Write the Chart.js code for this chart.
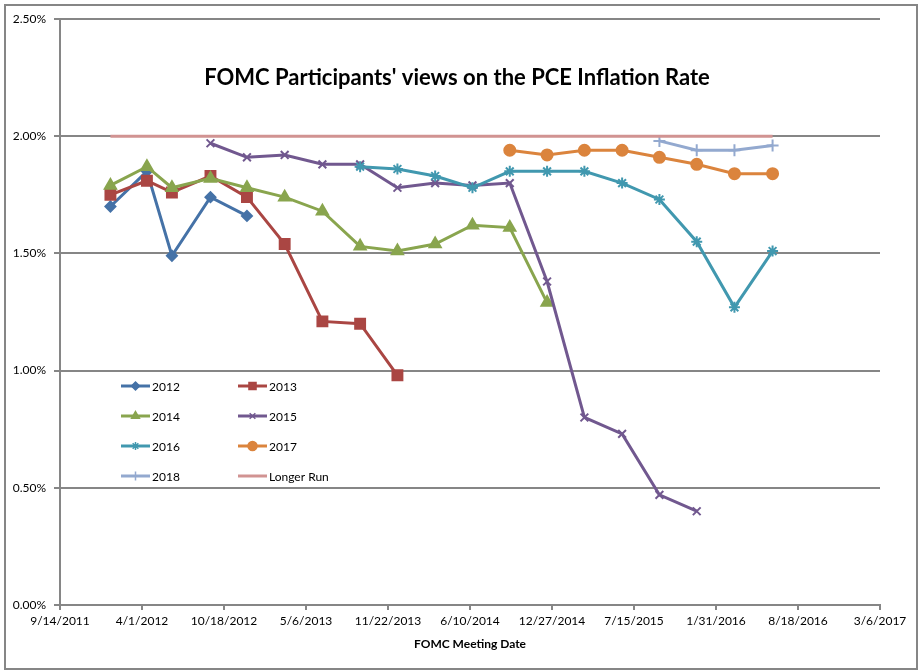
<!DOCTYPE html>
<html>
<head>
<meta charset="utf-8">
<script src="https://cdn.jsdelivr.net/npm/chart.js@4.4.0/dist/chart.umd.min.js"></script>
<style>
  html, body { margin: 0; padding: 0; background: #fff; }
  #wrap { width: 920px; height: 671px; }
</style>
</head>
<body>
<div id="wrap"><canvas id="fomc" width="920" height="671"></canvas></div>
<script>
// meeting dates
var meetingDates = ["2012-01-15","2012-04-13","2012-06-13","2012-09-15","2012-12-13",
  "2013-03-15","2013-06-15","2013-09-15","2013-12-15","2014-03-17","2014-06-16",
  "2014-09-15","2014-12-15","2015-03-16","2015-06-16","2015-09-15","2015-12-15",
  "2016-03-16","2016-06-17"];

// PCE inflation projections (%), one entry per meeting, null = no projection
var pce2012 = [1.70,1.85,1.49,1.74,1.66,null,null,null,null,null,null,null,null,null,null,null,null,null,null];
var pce2013 = [1.75,1.81,1.76,1.83,1.74,1.54,1.21,1.20,0.98,null,null,null,null,null,null,null,null,null,null];
var pce2014 = [1.79,1.87,1.78,1.82,1.78,1.74,1.68,1.53,1.51,1.54,1.62,1.61,1.29,null,null,null,null,null,null];
var pce2015 = [null,null,null,1.97,1.91,1.92,1.88,1.88,1.78,1.80,1.79,1.80,1.38,0.80,0.73,0.47,0.40,null,null];
var pce2016 = [null,null,null,null,null,null,null,1.87,1.86,1.83,1.78,1.85,1.85,1.85,1.80,1.73,1.55,1.27,1.51];
var pce2017 = [null,null,null,null,null,null,null,null,null,null,null,1.94,1.92,1.94,1.94,1.91,1.88,1.84,1.84];
var pce2018 = [null,null,null,null,null,null,null,null,null,null,null,null,null,null,null,1.98,1.94,1.94,1.96];
var pceLonger = [2.00,2.00,2.00,2.00,2.00,2.00,2.00,2.00,2.00,2.00,2.00,2.00,2.00,2.00,2.00,2.00,2.00,2.00,2.00];

var seriesNames = ["2012","2013","2014","2015","2016","2017","2018","Longer Run"];
var yTicks = [0, 0.5, 1.0, 1.5, 2.0, 2.5];

var colors = ["#4572A7","#AA4643","#89A54E","#71588F","#4198AF","#DB843D","#93A9CF","#D19392"];
var styles = ["rectRot","rect","triangle","crossRot","star","circle","cross",false];
var radii  = [5, 7, 6.5, 5.5, 5.5, 5.5, 6, 0];
var legendRadii = [4, 5, 4.5, 4, 4, 4.5, 4.5, 0];

var EXCEL_EPOCH = Date.UTC(1899, 11, 30);
function toSerial(s){
	var p = s.split("-");
	return (Date.UTC(+p[0], +p[1]-1, +p[2]) - EXCEL_EPOCH) / 86400000;
}
function serialLabel(v){
	var d = new Date(EXCEL_EPOCH + v*86400000);
	return (d.getUTCMonth()+1) + "/" + d.getUTCDate() + "/" + d.getUTCFullYear();
}

var serials = meetingDates.map(toSerial);
var allSeries = [pce2012,pce2013,pce2014,pce2015,pce2016,pce2017,pce2018,pceLonger];

var datasets = [];
for(var i = 0; i < allSeries.length; i++){
	var pts = [];
	for(var j = 0; j < serials.length; j++){
		if(allSeries[i][j] !== null) pts.push({x: serials[j], y: allSeries[i][j]});
	}
	datasets.push({
		label: seriesNames[i],
		data: pts,
		borderColor: colors[i],
		backgroundColor: colors[i],
		borderWidth: 3,
		pointStyle: styles[i],
		pointRadius: radii[i],
		pointBorderWidth: 2,
		pointBackgroundColor: colors[i],
		pointBorderColor: colors[i],
		tension: 0,
		order: -i
	});
}

var gridGray = "#868686";

// outer frame, in-plot title and legend (Excel style)
var excelDecor = {
	id: "excelDecor",
	beforeDraw: function(chart){
		var ctx = chart.ctx;
		ctx.save();
		ctx.strokeStyle = gridGray;
		ctx.lineWidth = 2;
		ctx.strokeRect(5, 5, 912, 664);
		ctx.restore();
	},
	afterDraw: function(chart){
		var ctx = chart.ctx;
		ctx.save();
		ctx.fillStyle = "#000";
		ctx.font = "bold 22px Lato";
		ctx.textAlign = "center";
		ctx.textBaseline = "middle";
		ctx.fillText("FOMC Participants' views on the PCE Inflation Rate", 457, 78);

		ctx.font = "12px Lato";
		ctx.textAlign = "left";
		for(var k = 0; k < seriesNames.length; k++){
			var x0 = (k % 2 == 0) ? 121 : 238;
			var y0 = 386 + Math.floor(k/2) * 30;
			ctx.strokeStyle = colors[k];
			ctx.fillStyle = colors[k];
			ctx.lineWidth = 3;
			ctx.beginPath();
			ctx.moveTo(x0, y0);
			ctx.lineTo(x0 + 29, y0);
			ctx.stroke();
			if(styles[k]){
				ctx.lineWidth = 1.5;
				Chart.helpers.drawPoint(ctx, {pointStyle: styles[k], radius: legendRadii[k], borderWidth: 1.5, rotation: 0}, x0 + 14.5, y0);
			}
			ctx.fillStyle = "#000";
			ctx.fillText(seriesNames[k], x0 + 31, y0 + 1);
		}
		ctx.restore();
	}
};

Chart.defaults.font.family = "Lato";
Chart.defaults.color = "#000";

new Chart(document.getElementById("fomc"), {
	type: "line",
	data: { datasets: datasets },
	plugins: [excelDecor],
	options: {
		responsive: false,
		animation: false,
		layout: { padding: { left: 0, right: 40, top: 19, bottom: 16 } },
		plugins: {
			legend: { display: false },
			title: { display: false },
			tooltip: { enabled: false }
		},
		scales: {
			x: {
				type: "linear",
				min: 40800,
				max: 42800,
				afterFit: function(s){ s.height = 50; },
				ticks: {
					stepSize: 200,
					padding: 4,
					font: { size: 12 },
					maxRotation: 0,
					autoSkip: false,
					callback: function(v){ return serialLabel(v); }
				},
				grid: { drawOnChartArea: false, drawTicks: true, tickLength: 5, color: gridGray, lineWidth: 2 },
				border: { color: gridGray, width: 2 },
				title: { display: true, text: "FOMC Meeting Date", font: { size: 12, weight: "bold" }, padding: 4 }
			},
			y: {
				min: 0,
				max: 2.5,
				afterFit: function(s){ s.width = 60; },
				afterBuildTicks: function(s){ s.ticks = yTicks.map(function(v){ return {value: v}; }); },
				ticks: {
					padding: 8,
					font: { size: 12 },
					callback: function(v){ return v.toFixed(2) + "%"; }
				},
				grid: { color: gridGray, lineWidth: 2, tickLength: 6 },
				border: { color: gridGray, width: 2 }
			}
		}
	}
});
</script>
</body>
</html>
